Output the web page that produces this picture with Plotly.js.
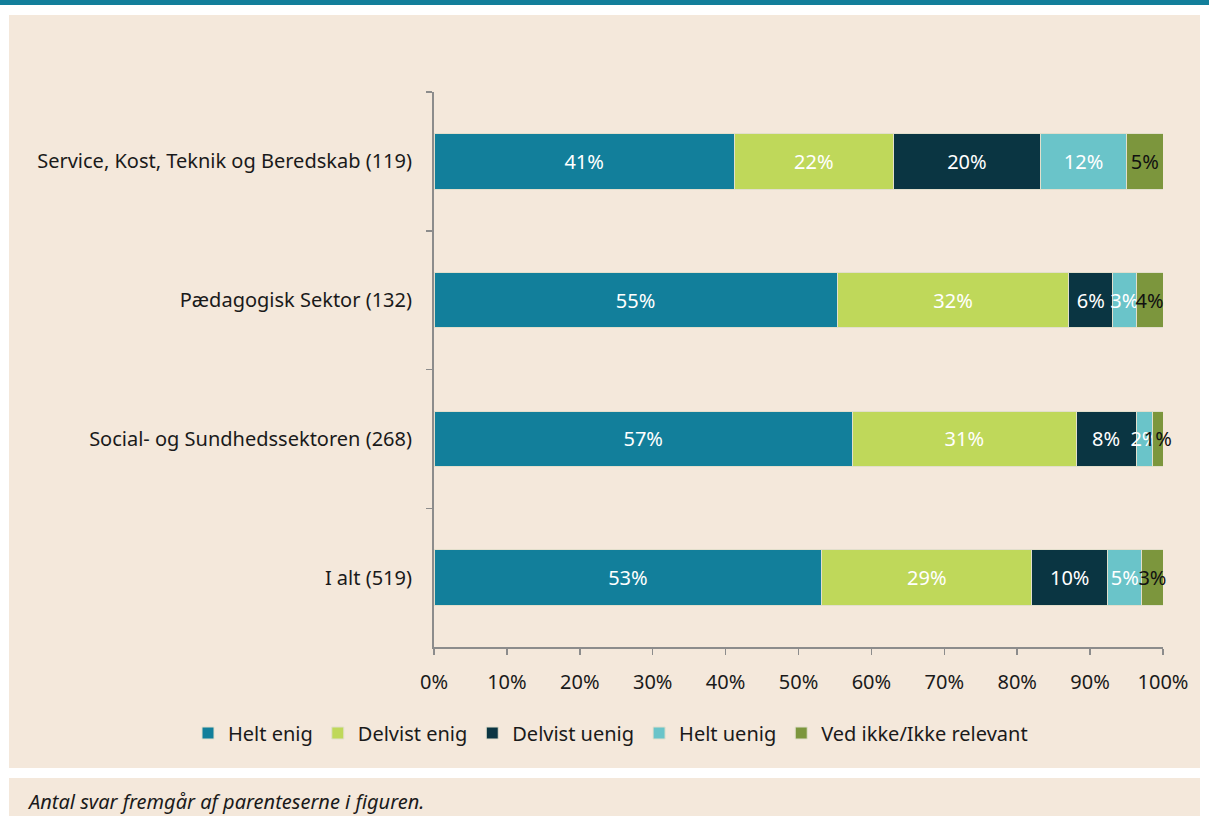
<!DOCTYPE html>
<html>
<head>
<meta charset="utf-8">
<script src="https://cdn.plot.ly/plotly-3.0.1.min.js"></script>
<style>
html,body{margin:0;padding:0;background:#ffffff;}
#chart{width:1209px;height:816px;}
</style>
</head>
<body>
<div id="chart"></div>
<script>
const categories = [
  "Service, Kost, Teknik og Beredskab (119)",
  "Pædagogisk Sektor (132)",
  "Social- og Sundhedssektoren (268)",
  "I alt (519)"
];
const seriesNames = ["Helt enig", "Delvist enig", "Delvist uenig", "Helt uenig", "Ved ikke/Ikke relevant"];
const heltEnig     = [41.2, 55.3, 57.4, 53.2];
const delvistEnig  = [21.8, 31.8, 30.7, 28.8];
const delvistUenig = [20.2, 6.0, 8.2, 10.4];
const heltUenig    = [11.8, 3.2, 2.3, 4.7];
const vedIkke      = [5.0, 3.7, 1.4, 2.9];
const xTicks = [0, 10, 20, 30, 40, 50, 60, 70, 80, 90, 100];

const seriesValues = [heltEnig, delvistEnig, delvistUenig, heltUenig, vedIkke];
const colors = ["#127f9b", "#bfd85a", "#0a3542", "#6ac4c9", "#7c963d"];
const textColors = ["#ffffff", "#ffffff", "#ffffff", "#ffffff", "#111111"];

const FONT = "'Noto Sans', 'Open Sans', sans-serif";

const traces = seriesNames.map((name, i) => ({
  type: "bar",
  orientation: "h",
  name: name,
  y: categories,
  x: seriesValues[i],
  text: seriesValues[i].map(v => Math.round(v) + "%"),
  texttemplate: "%{text}",
  textposition: "inside",
  insidetextanchor: "middle",
  textangle: 0,
  constraintext: "none",
  cliponaxis: false,
  textfont: {family: FONT, size: 20, color: textColors[i]},
  marker: {color: colors[i], line: {color: "#e2dfcc", width: 1}},
  hoverinfo: "skip"
}));

// pixel -> paper helpers (plot area: x 434..1163, y 92..647)
const L = 434, R = 1163, T = 92, B = 647;
const px = x => (x - L) / (R - L);
const py = y => (B - y) / (B - T);

const layout = {
  width: 1209,
  height: 816,
  margin: {l: L, r: 1209 - R, t: T, b: 816 - B, pad: 0},
  paper_bgcolor: "#ffffff",
  plot_bgcolor: "rgba(0,0,0,0)",
  barmode: "stack",
  bargap: 0.6,
  font: {family: FONT, size: 20, color: "#1a1a1a"},
  showlegend: true,
  legend: {
    orientation: "h",
    xref: "paper", yref: "paper",
    x: px(188), xanchor: "left",
    y: py(733), yanchor: "middle",
    font: {family: FONT, size: 20, color: "#1a1a1a"},
    traceorder: "normal",
    itemwidth: 30,
    bgcolor: "rgba(0,0,0,0)"
  },
  xaxis: {
    range: [0, 100.0001],
    tickvals: xTicks,
    ticktext: xTicks.map(v => v + "%"),
    showgrid: false,
    zeroline: false,
    showline: true,
    linecolor: "#8c8c8c",
    linewidth: 2,
    ticks: "outside",
    ticklen: 6,
    tickwidth: 1.5,
    tickcolor: "#8c8c8c",
    ticklabelstandoff: 10,
    tickfont: {family: FONT, size: 20, color: "#1a1a1a"},
    fixedrange: true
  },
  yaxis: {
    autorange: "reversed",
    type: "category",
    tickson: "boundaries",
    showgrid: false,
    zeroline: false,
    showline: true,
    linecolor: "#8c8c8c",
    linewidth: 2,
    ticks: "outside",
    ticklen: 6,
    tickwidth: 1.5,
    tickcolor: "#8c8c8c",
    ticklabelstandoff: 16,
    tickfont: {family: FONT, size: 20, color: "#1a1a1a"},
    fixedrange: true
  },
  shapes: [
    {type: "rect", xref: "paper", yref: "paper", layer: "below",
     x0: px(0), x1: px(1209), y0: py(0), y1: py(5),
     fillcolor: "#137f9b", line: {width: 0}},
    {type: "rect", xref: "paper", yref: "paper", layer: "below",
     x0: px(9), x1: px(1200), y0: py(15), y1: py(768),
     fillcolor: "#f4e8db", line: {width: 0}},
    {type: "rect", xref: "paper", yref: "paper", layer: "below",
     x0: px(9), x1: px(1200), y0: py(778), y1: py(816),
     fillcolor: "#f4e8db", line: {width: 0}}
  ],
  annotations: [
    {xref: "paper", yref: "paper", x: px(25), y: py(801),
     xanchor: "left", yanchor: "middle", showarrow: false,
     text: "<i>Antal svar fremgår af parenteserne i figuren.</i>",
     font: {family: FONT, size: 20, color: "#1a1a1a"}}
  ]
};

Plotly.newPlot("chart", traces, layout, {displayModeBar: false, staticPlot: true});
</script>
</body>
</html>
